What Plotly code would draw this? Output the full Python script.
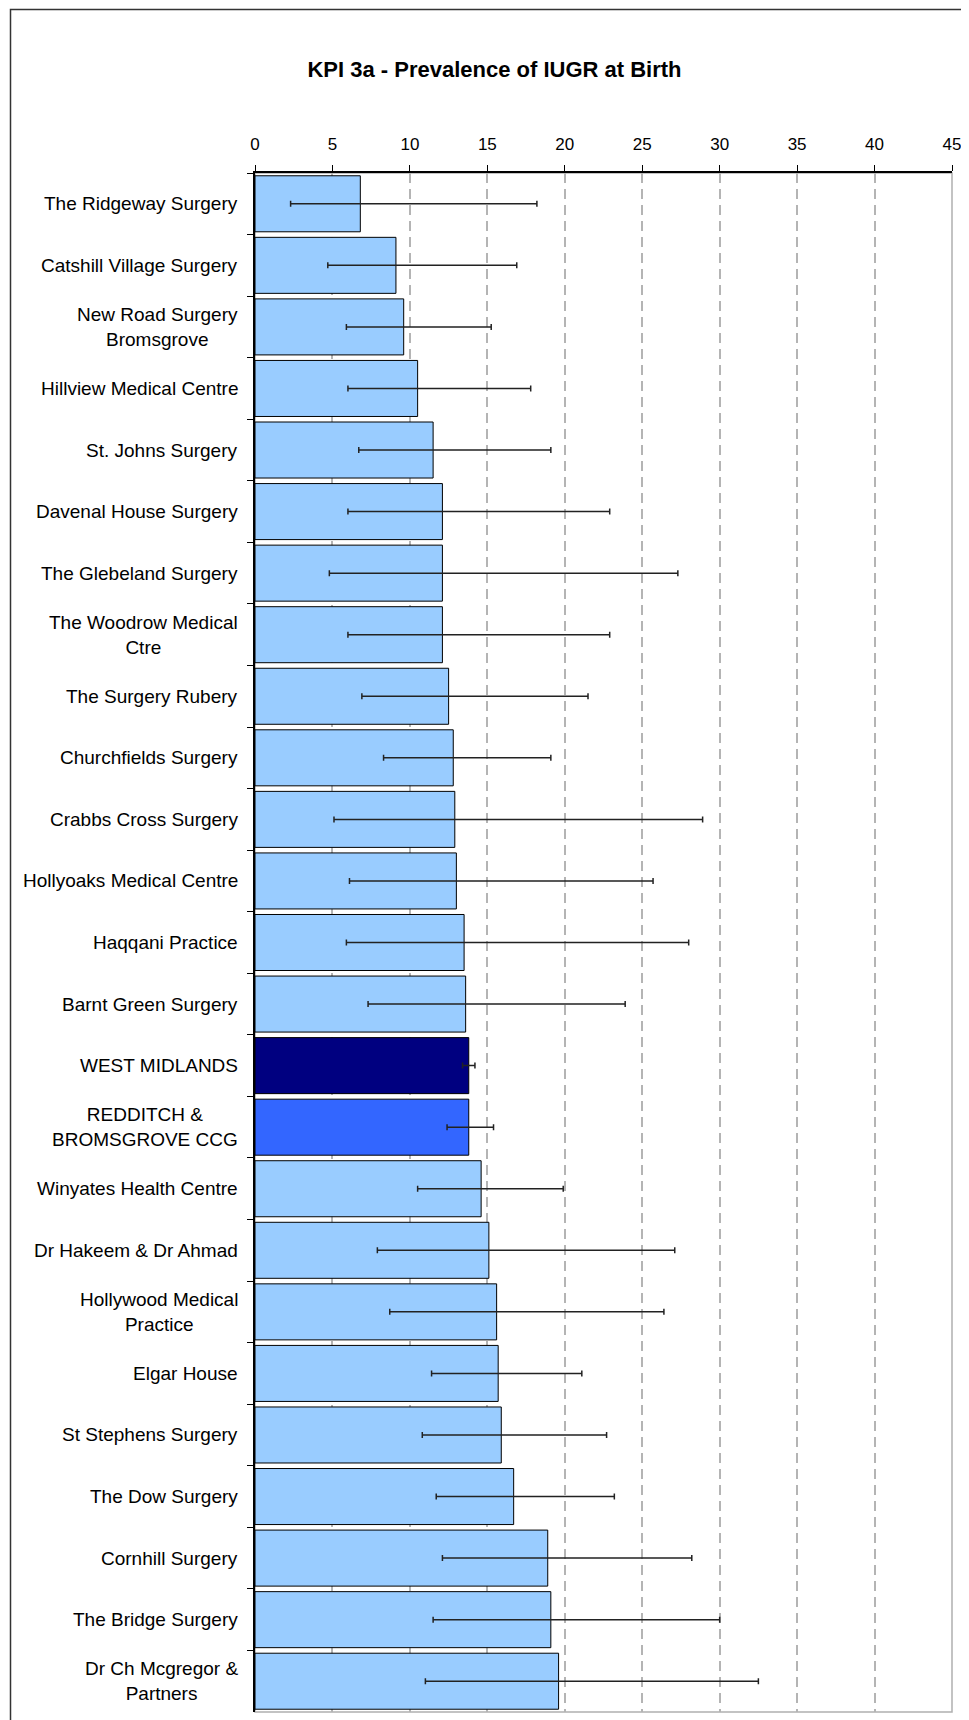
import plotly.graph_objects as go

categories = [
    "The Ridgeway Surgery", "Catshill Village Surgery", "New Road Surgery<br>Bromsgrove",
    "Hillview Medical Centre", "St. Johns Surgery", "Davenal House Surgery",
    "The Glebeland Surgery", "The Woodrow Medical<br>Ctre", "The Surgery Rubery",
    "Churchfields Surgery", "Crabbs Cross Surgery", "Hollyoaks Medical Centre",
    "Haqqani Practice", "Barnt Green Surgery", "WEST MIDLANDS",
    "REDDITCH &<br>BROMSGROVE CCG", "Winyates Health Centre", "Dr Hakeem & Dr Ahmad",
    "Hollywood Medical<br>Practice", "Elgar House", "St Stephens Surgery",
    "The Dow Surgery", "Cornhill Surgery", "The Bridge Surgery",
    "Dr Ch Mcgregor &<br>Partners",
]
values = [6.8, 9.1, 9.6, 10.5, 11.5, 12.1, 12.1, 12.1, 12.5, 12.8, 12.9, 13.0, 13.5,
          13.6, 13.8, 13.8, 14.6, 15.1, 15.6, 15.7, 15.9, 16.7, 18.9, 19.1, 19.6]
lower_ci = [2.3, 4.7, 5.9, 6.0, 6.7, 6.0, 4.8, 6.0, 6.9, 8.3, 5.1, 6.1, 5.9,
            7.3, 13.4, 12.4, 10.5, 7.9, 8.7, 11.4, 10.8, 11.7, 12.1, 11.5, 11.0]
upper_ci = [18.2, 16.9, 15.25, 17.8, 19.1, 22.9, 27.3, 22.9, 21.5, 19.1, 28.9, 25.7, 28.0,
            23.9, 14.2, 15.4, 19.9, 27.1, 26.4, 21.1, 22.7, 23.2, 28.2, 30.0, 32.5]
x_ticks = [0, 5, 10, 15, 20, 25, 30, 35, 40, 45]

LIGHT, REGION, CCG = "#99CCFF", "#000080", "#3366FF"
colors = [REGION if c == "WEST MIDLANDS" else CCG if c.startswith("REDDITCH") else LIGHT
          for c in categories]

FONT = "Arial, Liberation Sans, sans-serif"

fig = go.Figure()
fig.add_trace(go.Bar(
    y=categories, x=values, orientation="h",
    marker=dict(color=colors, line=dict(color="#000000", width=1)),
    error_x=dict(type="data", symmetric=False,
                 array=[u - v for u, v in zip(upper_ci, values)],
                 arrayminus=[v - l for v, l in zip(values, lower_ci)],
                 color="#222222", thickness=1.5, width=3),
    showlegend=False, hoverinfo="x+y",
))

W, H = 961, 1712
L, R, T, B = 247, 12, 165, 8
pw, ph = W - L - R, H - T - B

annotations = [dict(text=c, x=0, y=c, xref="paper", yref="y", xanchor="right",
                    yanchor="middle", xshift=-15, align="center", showarrow=False,
                    font=dict(family=FONT, size=19, color="#000000"))
               for c in categories]

fig.update_layout(
    width=W, height=H,
    margin=dict(l=L, r=R, t=T, b=B),
    paper_bgcolor="white", plot_bgcolor="white",
    bargap=0.09,
    title=dict(text="<b>KPI 3a - Prevalence of IUGR at Birth</b>",
               x=486.5 / W, xref="container", xanchor="center",
               y=1 - 61 / H, yref="container", yanchor="middle",
               font=dict(family=FONT, size=22, color="#000000")),
    xaxis=dict(side="top", range=[0, 45], tickvals=x_ticks,
               ticks="outside", ticklen=6, tickcolor="#000000", tickwidth=1,
               showline=True, linecolor="#000000", linewidth=1.5,
               showgrid=True, gridcolor="#B4B4B4", gridwidth=1.5,
               griddash="10px,6px", zeroline=False,
               ticklabelstandoff=8,
               tickfont=dict(family=FONT, size=17, color="#000000")),
    yaxis=dict(autorange="reversed", type="category", tickson="boundaries",
               ticks="outside", ticklen=6, tickcolor="#000000",
               showticklabels=False, showline=True, linecolor="#000000",
               linewidth=1.5, showgrid=False, zeroline=False),
    annotations=annotations,
    shapes=[
        dict(type="rect", xref="paper", yref="paper", x0=0, x1=1, y0=0, y1=1,
             line=dict(color="#B0B0B0", width=1.5), layer="below"),
        dict(type="rect", xref="paper", yref="paper",
             x0=(0.75 - L) / pw, x1=1.2, y0=-0.2, y1=(H - B - 1.5) / ph,
             line=dict(color="#333333", width=1.5), layer="below"),
    ],
)

fig.write_html("out.html")
